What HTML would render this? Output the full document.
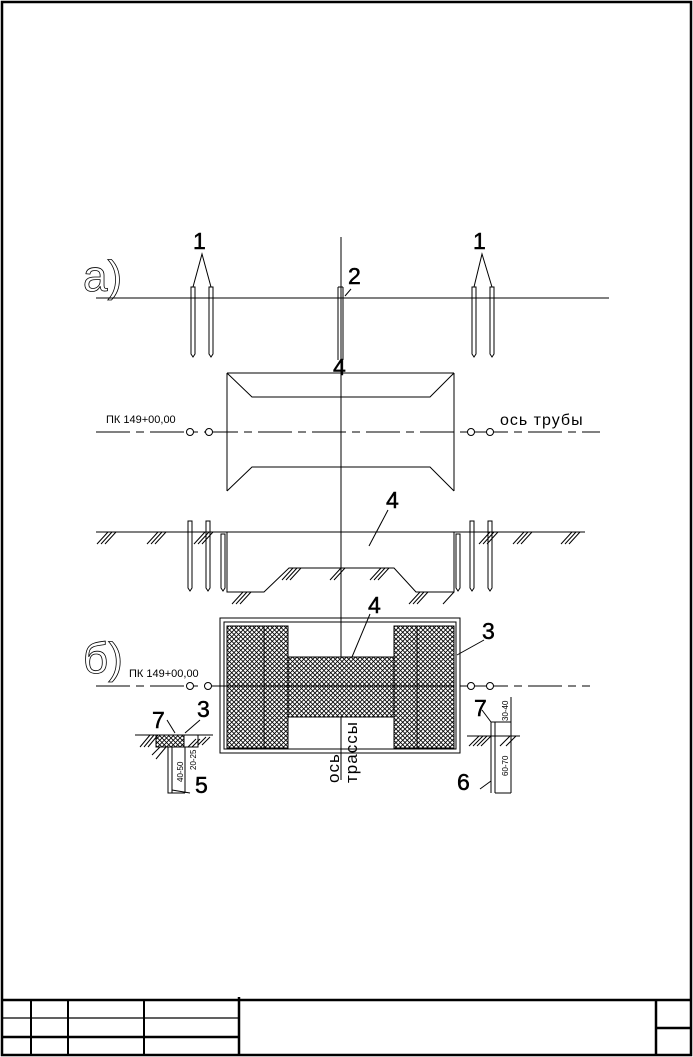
<!DOCTYPE html>
<html><head><meta charset="utf-8"><style>
html,body{margin:0;padding:0;background:#fff;}
svg{display:block;}
text{font-family:"Liberation Sans",sans-serif;fill:#000;}
text.ol{fill:none;stroke:#000;stroke-width:0.8;}
</style></head><body>
<svg width="693" height="1057" viewBox="0 0 693 1057" xmlns="http://www.w3.org/2000/svg">
<defs>
<pattern id="xh" width="4.5" height="4.5" patternUnits="userSpaceOnUse">
<rect width="4.5" height="4.5" fill="#fff"/>
<path d="M0,0 L4.5,4.5 M4.5,0 L0,4.5" stroke="#000" stroke-width="0.8"/>
</pattern>
</defs>
<rect x="2" y="2" width="689" height="1053" fill="none" stroke="#000" stroke-width="2.5"/>
<g stroke="#000" fill="none">
<line x1="2" y1="1000" x2="691" y2="1000" stroke-width="2.5"/>
<line x1="2" y1="1018" x2="238" y2="1018" stroke-width="1.2"/>
<line x1="2" y1="1037" x2="238" y2="1037" stroke-width="2.5"/>
<line x1="31" y1="1000" x2="31" y2="1055" stroke-width="2"/>
<line x1="68" y1="1000" x2="68" y2="1055" stroke-width="2"/>
<line x1="144" y1="1000" x2="144" y2="1055" stroke-width="2"/>
<line x1="239" y1="997" x2="239" y2="1055" stroke-width="2.5"/>
<line x1="656" y1="1000" x2="656" y2="1055" stroke-width="2.5"/>
<line x1="656" y1="1028" x2="691" y2="1028" stroke-width="2.5"/>
</g>
<g stroke="#000" fill="none" stroke-width="1">
<line x1="96" y1="298" x2="609" y2="298"/>
<line x1="341" y1="237" x2="341" y2="780"/>
<path d="M191,287 V354 L193,357 L195,354 V287 Z"/>
<path d="M209,287 V354 L211,357 L213,354 V287 Z"/>
<path d="M472,287 V354 L474,357 L476,354 V287 Z"/>
<path d="M490,287 V354 L492,357 L494,354 V287 Z"/>
<path d="M338,287 V360 M343,287 V360 M338,287 H343"/>
<path d="M193,287 L202,254 L211,287 M474,287 L482,254 L492,287"/>
<path d="M345,296 L351,289"/>
<path d="M227,373 H454 M227,373 V491 M454,373 V491 M227,491 L252,467 H430 L454,491 M227,373 L252,397 H430 L454,373"/>
<line x1="96" y1="432" x2="600" y2="432" stroke-dasharray="34,6,8,6"/>
<circle cx="190" cy="432" r="3.5" fill="#fff"/>
<circle cx="209" cy="432" r="3.5" fill="#fff"/>
<circle cx="471" cy="432" r="3.5" fill="#fff"/>
<circle cx="490" cy="432" r="3.5" fill="#fff"/>
<line x1="96" y1="532" x2="585" y2="532"/>
<path d="M227,532 V592 H264 L289,568 H394 L416,592 H454 V532"/>
<path d="M221,534 V588 L223,591 L225,588 V534 Z"/>
<path d="M456,534 V588 L458,591 L460,588 V534 Z"/>
<path d="M188,521 V588 L190,591 L192,588 V521 Z"/>
<path d="M206,521 V588 L208,591 L210,588 V521 Z"/>
<path d="M470,521 V588 L472,591 L474,588 V521 Z"/>
<path d="M488,521 V588 L490,591 L492,588 V521 Z"/>
<path d="M388,510 L369,546"/>
<path d="M97,544 L108,532 M101,544 L112,532 M105,544 L116,532
M147,544 L158,532 M151,544 L162,532 M155,544 L166,532
M194,544 L205,532 M198,544 L209,532 M202,544 L213,532
M479,544 L490,532 M483,544 L494,532 M487,544 L498,532
M513,544 L524,532 M517,544 L528,532 M521,544 L532,532
M561,544 L572,532 M565,544 L576,532 M569,544 L580,532
M282,580 L293,568 M286,580 L297,568 M290,580 L301,568
M330,580 L341,568 M334,580 L345,568
M370,580 L381,568 M374,580 L385,568 M378,580 L389,568
M232,604 L243,592 M236,604 L247,592 M240,604 L251,592
M409,604 L420,592 M413,604 L424,592 M417,604 L428,592
M443,604 L454,592"/>
<rect x="220" y="618" width="240" height="135"/>
<rect x="224" y="622" width="232" height="127"/>
</g>
<rect x="227" y="626" width="61" height="122" fill="url(#xh)" stroke="#000"/>
<rect x="394" y="626" width="60" height="122" fill="url(#xh)" stroke="#000"/>
<rect x="288" y="657" width="106" height="60" fill="url(#xh)" stroke="#000"/>
<g stroke="#000" fill="none" stroke-width="1">
<line x1="264" y1="626" x2="264" y2="748"/>
<line x1="417" y1="626" x2="417" y2="748"/>
<line x1="96" y1="686" x2="590" y2="686" stroke-dasharray="34,6,8,6"/>
<line x1="227" y1="686" x2="454" y2="686"/>
<circle cx="190" cy="686" r="3.5" fill="#fff"/>
<circle cx="208" cy="686" r="3.5" fill="#fff"/>
<circle cx="471" cy="686" r="3.5" fill="#fff"/>
<circle cx="490" cy="686" r="3.5" fill="#fff"/>
<path d="M457,655 L484,640 M352,657 L370,614"/>
<line x1="135" y1="735" x2="213" y2="735"/>
</g>
<rect x="156" y="735" width="28" height="12" fill="url(#xh)" stroke="#000"/>
<g stroke="#000" fill="none" stroke-width="1">
<path d="M184,735 V747 H198 V735"/>
<path d="M168,747 V793 H185 M172,747 V793 M185,747 V793"/>
<path d="M172,790 L190,793 M167,720 L175,733 M185,733 L200,720"/>
<path d="M140,747 L150,735 M144,747 L154,735 M148,747 L158,735 M152,755 L160,747 M156,759 L166,747 M188,747 L196,739 M192,747 L200,739 M198,745 L206,737 M202,745 L210,737"/>
<line x1="467" y1="736" x2="520" y2="736"/>
<path d="M491,722 V793 M495,722 V793 M491,722 H495 M495,793 H511 M511,697 V793 M495,722 H511"/>
<path d="M469,746 L479,736 M473,746 L483,736 M477,746 L487,736 M481,746 L491,736 M500,746 L510,736 M506,746 L516,736"/>
<path d="M482,710 L491,722 M480,789 L491,781"/>
</g>
<text class="ol" x="83" y="291" font-size="44">а)</text>
<text class="ol" x="83" y="673" font-size="44">б)</text>
<g font-size="23" style="stroke:#000;stroke-width:0.5">
<text x="193" y="249">1</text>
<text x="473" y="249">1</text>
<text x="348" y="284">2</text>
<text x="333" y="375">4</text>
<text x="386" y="508">4</text>
<text x="368" y="613">4</text>
<text x="482" y="639">3</text>
<text x="152" y="728">7</text>
<text x="197" y="717">3</text>
<text x="195" y="793">5</text>
<text x="474" y="716">7</text>
<text x="457" y="790">6</text>
</g>
<text x="106" y="423" font-size="11">ПК 149+00,00</text>
<text x="129" y="677" font-size="11">ПК 149+00,00</text>
<text x="500" y="425" font-size="16" letter-spacing="1">ось  трубы</text>
<g font-size="8">
<text transform="translate(183,782) rotate(-90)">40-50</text>
<text transform="translate(196,770) rotate(-90)">20-25</text>
<text transform="translate(508,721) rotate(-90)">30-40</text>
<text transform="translate(508,776) rotate(-90)">60-70</text>
</g>
<text transform="translate(339,783) rotate(-90)" font-size="17" letter-spacing="1">ось</text>
<text transform="translate(357,783) rotate(-90)" font-size="17" letter-spacing="1">трассы</text>
</svg>
</body></html>
